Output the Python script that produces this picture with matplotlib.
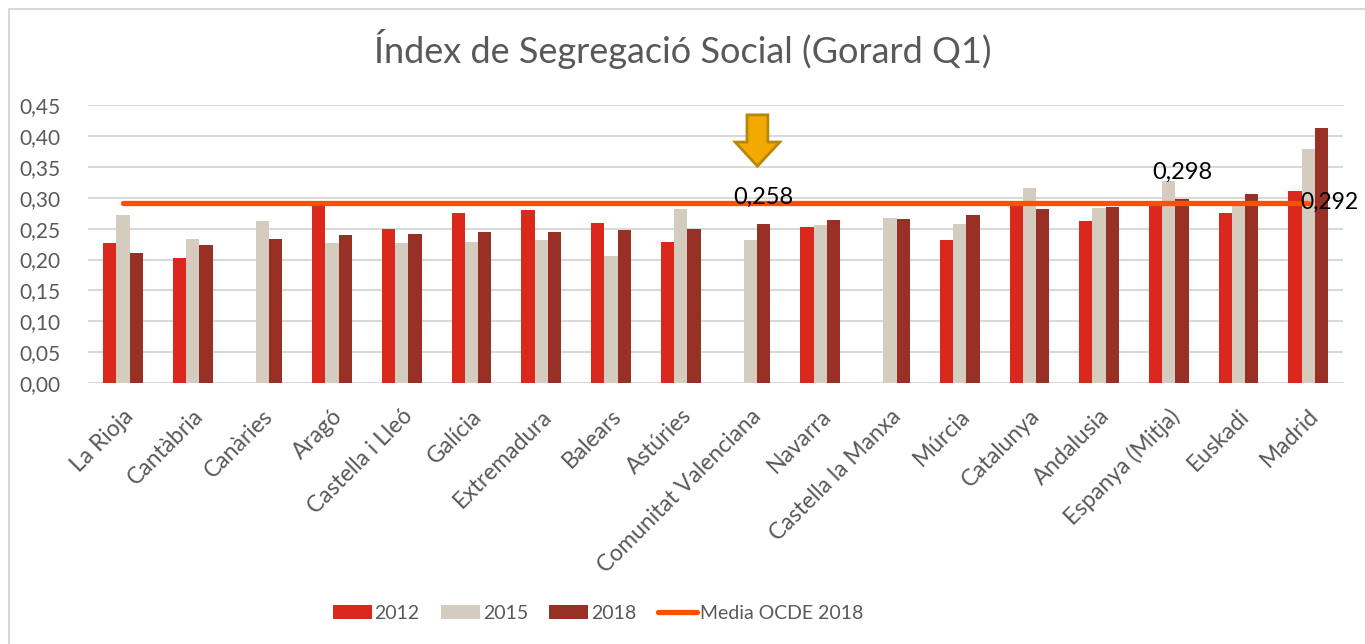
import numpy as np
import matplotlib.pyplot as plt
from matplotlib.patches import FancyArrow, Rectangle

plt.rcParams['font.family'] = ['Lato', 'DejaVu Sans']

# data
regions = ['La Rioja', 'Cantàbria', 'Canàries', 'Aragó', 'Castella i Lleó', 'Galícia',
           'Extremadura', 'Balears', 'Astúries', 'Comunitat Valenciana', 'Navarra',
           'Castella la Manxa', 'Múrcia', 'Catalunya', 'Andalusia', 'Espanya (Mitja)',
           'Euskadi', 'Madrid']
v2012 = [0.226, 0.203, np.nan, 0.290, 0.249, 0.276, 0.280, 0.259, 0.229, np.nan, 0.252,
         np.nan, 0.232, 0.292, 0.262, 0.287, 0.276, 0.311]
v2015 = [0.272, 0.234, 0.263, 0.227, 0.226, 0.229, 0.232, 0.206, 0.281, 0.232, 0.256,
         0.267, 0.258, 0.315, 0.284, 0.327, 0.291, 0.379]
v2018 = [0.210, 0.223, 0.234, 0.239, 0.241, 0.244, 0.245, 0.247, 0.249, 0.258, 0.264,
         0.266, 0.272, 0.281, 0.285, 0.298, 0.306, 0.412]
ocde = [0.292, 0.292, 0.292, 0.292, 0.292, 0.292, 0.292, 0.292, 0.292, 0.292, 0.292,
        0.292, 0.292, 0.292, 0.292, 0.292, 0.292, 0.292]
yticks = [0.00, 0.05, 0.10, 0.15, 0.20, 0.25, 0.30, 0.35, 0.40, 0.45]

grey = '#595959'
fig = plt.figure(figsize=(13.65, 6.44), dpi=100)
ax = fig.add_axes([0.0645, 0.405, 0.9195, 0.432])

x = np.arange(len(regions))
w = 0.19
b1 = ax.bar(x - w, v2012, w, color='#DA291C', label='2012', zorder=2)
b2 = ax.bar(x, v2015, w, color='#D3CCBF', label='2015', zorder=2)
b3 = ax.bar(x + w, v2018, w, color='#993026', label='2018', zorder=2)
ln, = ax.plot(x, ocde, color='#FF5000', lw=3.8, solid_capstyle='round', label='Media OCDE 2018', zorder=3)

# data labels
for i in [9, 15]:
    ax.annotate(f'{v2018[i]:.3f}'.replace('.', ','), (x[i] + w, v2018[i]), xytext=(0, 19),
                textcoords='offset points', ha='center', va='center', fontsize=17, color='black', zorder=4)
ax.annotate(f'{ocde[-1]:.3f}'.replace('.', ','), (x[-1], ocde[-1]), xytext=(-6, 0),
            textcoords='offset points', ha='left', va='center', fontsize=16.5, color='black', zorder=4)

# orange arrow over Comunitat Valenciana
ax.add_patch(FancyArrow(9.1, 0.434, 0, -0.083, width=0.3, head_width=0.64, head_length=0.039,
                        length_includes_head=True, facecolor='#F2A900', edgecolor='#B8860B', lw=2, zorder=5))

ax.set_xlim(-0.5, len(regions) - 0.5)
ax.set_ylim(0, 0.45)
ax.set_yticks(yticks)
ax.set_yticklabels([f'{t:.2f}'.replace('.', ',') for t in yticks])
ax.set_xticks(x)
ax.set_xticklabels(regions, rotation=45, ha='right', rotation_mode='anchor')
ax.tick_params(axis='both', length=0, labelcolor=grey)
ax.tick_params(axis='y', pad=20, labelsize=15)
ax.tick_params(axis='x', pad=16, labelsize=16.5)
ax.grid(axis='y', color='#D9D9D9', lw=1.5, zorder=0)
for s in ax.spines.values():
    s.set_visible(False)

fig.suptitle('Índex de Segregació Social (Gorard Q1)', y=0.955, fontsize=26, color=grey)
fig.legend([b1, b2, b3, ln], ['2012', '2015', '2018', 'Media OCDE 2018'], loc='center',
           bbox_to_anchor=(0.438, 0.048), ncol=4, frameon=False, fontsize=14,
           labelcolor=grey, handlelength=2.0, handleheight=0.75, handletextpad=0.15, columnspacing=1.1)

# chart border (only left and top edges are visible)
fig.add_artist(Rectangle((9 / 1365, -0.1), 1.2, 1 - 9 / 644 + 0.1, transform=fig.transFigure,
                         fill=False, edgecolor='#D9D9D9', lw=1.5))

fig.savefig('out.png', dpi=100)
